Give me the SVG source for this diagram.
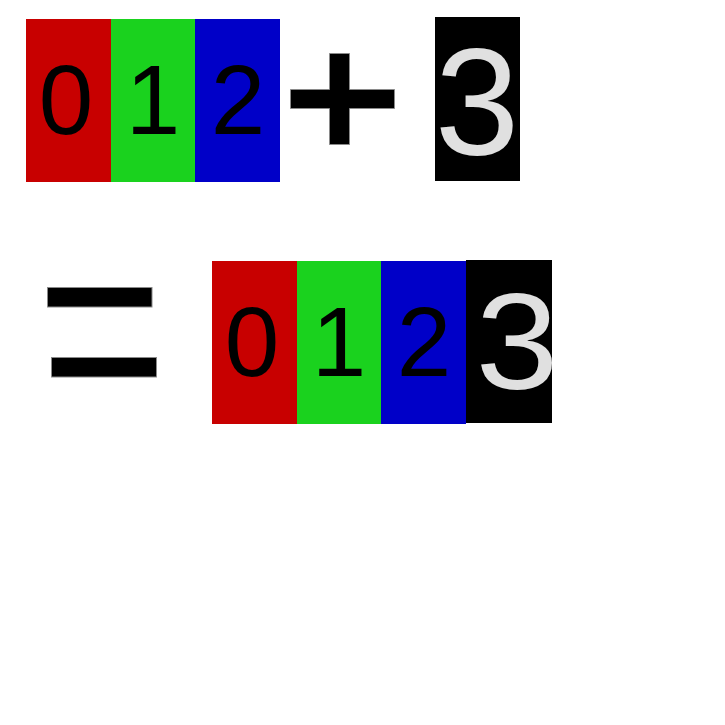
<svg xmlns="http://www.w3.org/2000/svg" width="725" height="725" viewBox="0 0 725 725">
<style>
.r{fill:#c80000}.g{fill:#1ad21e}.b{fill:#0000c8}.k{fill:#000}
.d{font-family:"Liberation Sans",Arial,sans-serif;font-size:98px;fill:#000;text-anchor:middle}
.t{font-family:"Liberation Sans",Arial,sans-serif;fill:#e0e0e0;text-anchor:middle}
.op{fill:#000;stroke:#8a8a8a;stroke-width:1}
</style>
<rect width="725" height="725" fill="#fff"/>
<g id="top-0"><rect class="r" x="26" y="19" width="85" height="163"/><text class="d" x="66" y="134">0</text></g>
<g id="top-1"><rect class="g" x="111" y="19" width="84" height="163"/><text class="d" x="153" y="134">1</text></g>
<g id="top-2"><rect class="b" x="195" y="19" width="85" height="163"/><text class="d" x="238" y="134">2</text></g>
<g id="plus"><polygon class="op" points="329.5,53.5 349.5,53.5 349.5,89.5 394.5,89.5 394.5,108.5 349.5,108.5 349.5,144.5 329.5,144.5 329.5,108.5 290.5,108.5 290.5,89.5 329.5,89.5"/></g>
<g id="top-3"><rect class="k" x="435" y="17" width="85" height="164"/><text class="t" x="477" y="155" font-size="152">3</text></g>
<g id="equals"><rect class="op" x="47.5" y="287.5" width="104.5" height="19.5"/><rect class="op" x="51.5" y="357.5" width="105" height="19.5"/></g>
<g id="bot-0"><rect class="r" x="212" y="261" width="85" height="163"/><text class="d" x="252" y="375.5">0</text></g>
<g id="bot-1"><rect class="g" x="297" y="261" width="84" height="163"/><text class="d" x="339" y="375.5">1</text></g>
<g id="bot-2"><rect class="b" x="381" y="261" width="85" height="163"/><text class="d" x="424" y="375.5">2</text></g>
<g id="bot-3"><rect class="k" x="466" y="260" width="86" height="163"/><text class="t" font-size="137" transform="translate(517,388.5) scale(1.09,1)">3</text></g>
<g id="connectors"/>
</svg>
